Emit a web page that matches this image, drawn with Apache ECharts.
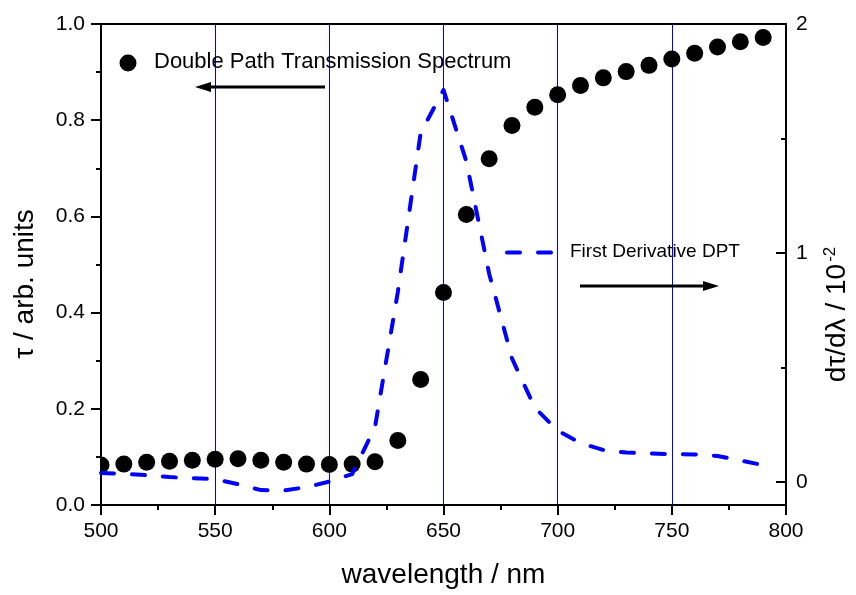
<!DOCTYPE html>
<html>
<head>
<meta charset="utf-8">
<script src="https://cdn.jsdelivr.net/npm/echarts@6/dist/echarts.min.js"></script>
<style>
  html, body { margin: 0; padding: 0; background: #fff; }
  #chart { width: 856px; height: 595px; }
</style>
</head>
<body>
<div id="chart"></div>
<script>
// Wavelength samples (nm)
const wavelengthNm = [500, 510, 520, 530, 540, 550, 560, 570, 580, 590,
                      600, 610, 620, 630, 640, 650, 660, 670, 680, 690,
                      700, 710, 720, 730, 740, 750, 760, 770, 780, 790];

// Double path transmission spectrum, tau (arb. units)
const transmission = [0.083, 0.085, 0.089, 0.091, 0.093, 0.095, 0.096, 0.093, 0.089, 0.085,
                      0.084, 0.085, 0.090, 0.134, 0.261, 0.442, 0.604, 0.720, 0.789, 0.827,
                      0.853, 0.872, 0.888, 0.901, 0.914, 0.927, 0.939, 0.952, 0.963, 0.972];

// First derivative d(tau)/d(lambda), in units of 10^-2
const derivative = [0.040, 0.036, 0.030, 0.022, 0.017, 0.013, -0.009, -0.035, -0.037, -0.022,
                    0.002, 0.035, 0.240, 0.830, 1.525, 1.712, 1.400, 0.910, 0.540, 0.325,
                    0.225, 0.170, 0.140, 0.129, 0.125, 0.122, 0.121, 0.114, 0.095, 0.074];

// Tick values on the right-hand axis
const rightMajorTicks = [0, 1, 2];
const rightMinorTicks = [0.5, 1.5];

const FONT = 'Liberation Sans, Arial, sans-serif';
const BLUE = '#0000ff';
const DOT_RADIUS = 8.5;

const scatterData = wavelengthNm.map((w, i) => [w, transmission[i]]);
const derivData = wavelengthNm.map((w, i) => [w, derivative[i]]);

const chart = echarts.init(document.getElementById('chart'), null, { renderer: 'canvas' });

const axisLine = { show: true, onZero: false, lineStyle: { color: '#000', width: 2 } };

// filled dots, clipped to the plot frame
function renderDot(params, api) {
  const p = api.coord([api.value(0), api.value(1)]);
  return {
    type: 'circle',
    shape: { cx: p[0], cy: p[1], r: DOT_RADIUS },
    style: { fill: '#000' }
  };
}

chart.setOption({
  animation: false,
  backgroundColor: '#fff',
  grid: { left: 101, top: 24, width: 685, height: 481, containLabel: false, outerBoundsMode: 'none' },
  xAxis: [
    {
      type: 'value', min: 500, max: 800, interval: 50,
      position: 'bottom',
      name: 'wavelength / nm', nameLocation: 'middle', nameGap: 56,
      nameTextStyle: { fontFamily: FONT, fontSize: 28, color: '#000' },
      axisLine: axisLine,
      axisTick: { show: true, inside: false, length: 10, lineStyle: { color: '#000', width: 2 } },
      minorTick: { show: true, splitNumber: 2, length: 5, lineStyle: { color: '#000', width: 2 } },
      axisLabel: { fontFamily: FONT, fontSize: 21, color: '#000', margin: 16 },
      splitLine: { show: true, showMinLine: false, showMaxLine: false,
                   lineStyle: { color: [BLUE], width: 1, opacity: 1 } }
    },
    {
      type: 'value', min: 500, max: 800, interval: 50,
      position: 'top',
      axisLine: axisLine,
      axisTick: { show: false },
      axisLabel: { show: false },
      splitLine: { show: false }
    }
  ],
  yAxis: [
    {
      type: 'value', min: 0, max: 1, interval: 0.2,
      position: 'left',
      name: 'τ / arb. units', nameLocation: 'middle', nameGap: 62,
      nameTextStyle: { fontFamily: FONT, fontSize: 28, color: '#000', padding: [0, 39, 0, 0] },
      axisLine: axisLine,
      axisTick: { show: true, inside: false, length: 10, lineStyle: { color: '#000', width: 2 } },
      minorTick: { show: true, splitNumber: 2, length: 5, lineStyle: { color: '#000', width: 2 } },
      axisLabel: { fontFamily: FONT, fontSize: 21, color: '#000', margin: 16,
                   formatter: v => v.toFixed(1) },
      splitLine: { show: false }
    },
    {
      type: 'value', min: -0.1, max: 2,
      position: 'right',
      name: '{n|dτ/dλ / 10}{s|-2}', nameLocation: 'middle', nameGap: 36, nameRotate: 90,
      nameTextStyle: {
        fontFamily: FONT, fontSize: 28, color: '#000', padding: [0, 100, 0, 0],
        rich: {
          n: { fontFamily: FONT, fontSize: 28, color: '#000' },
          s: { fontFamily: FONT, fontSize: 17, color: '#000', verticalAlign: 'top', padding: [0, 0, 14, 2] }
        }
      },
      axisLine: axisLine,
      axisTick: { show: true, inside: true, length: 10, customValues: rightMajorTicks,
                  lineStyle: { color: '#000', width: 2 } },
      axisLabel: { fontFamily: FONT, fontSize: 21, color: '#000', margin: 10,
                   customValues: rightMajorTicks, formatter: v => String(v) },
      splitLine: { show: false }
    },
    {
      // minor ticks of the right-hand axis
      type: 'value', min: -0.1, max: 2,
      position: 'right',
      axisLine: { show: false, onZero: false },
      axisTick: { show: true, inside: true, length: 5, customValues: rightMinorTicks,
                  lineStyle: { color: '#000', width: 2 } },
      axisLabel: { show: false },
      splitLine: { show: false }
    }
  ],
  series: [
    {
      name: 'Double Path Transmission Spectrum',
      type: 'custom',
      xAxisIndex: 0, yAxisIndex: 0,
      data: scatterData,
      renderItem: renderDot,
      encode: { x: 0, y: 1 },
      clip: true,
      z: 3
    },
    {
      name: 'First Derivative DPT',
      type: 'line',
      xAxisIndex: 0, yAxisIndex: 1,
      data: derivData,
      showSymbol: false, smooth: false,
      lineStyle: { color: BLUE, width: 4, type: [13, 18], cap: 'round', join: 'round' },
      clip: true,
      z: 4
    }
  ],
  graphic: [
    // legend entry: transmission
    { type: 'circle', shape: { cx: 128, cy: 63, r: DOT_RADIUS }, style: { fill: '#000' }, z: 10 },
    { type: 'text', x: 154, y: 62,
      style: { text: 'Double Path Transmission Spectrum', font: '22px ' + FONT, fill: '#000',
               textVerticalAlign: 'middle', verticalAlign: 'middle' }, z: 10 },
    // arrow pointing to the left-hand axis
    { type: 'line', shape: { x1: 325, y1: 87, x2: 208, y2: 87 }, style: { stroke: '#000', lineWidth: 3 }, z: 10 },
    { type: 'polygon', shape: { points: [[195, 87], [211, 82], [211, 92]] }, style: { fill: '#000' }, z: 10 },
    // legend entry: derivative
    { type: 'line', shape: { x1: 507, y1: 252.5, x2: 553, y2: 252.5 },
      style: { stroke: BLUE, lineWidth: 4, lineDash: [13, 18], lineCap: 'round' }, z: 10 },
    { type: 'text', x: 570, y: 252,
      style: { text: 'First Derivative DPT', font: '19px ' + FONT, fill: '#000',
               textVerticalAlign: 'middle', verticalAlign: 'middle' }, z: 10 },
    // arrow pointing to the right-hand axis
    { type: 'line', shape: { x1: 580, y1: 286, x2: 705, y2: 286 }, style: { stroke: '#000', lineWidth: 3 }, z: 10 },
    { type: 'polygon', shape: { points: [[719, 286], [703, 281], [703, 291]] }, style: { fill: '#000' }, z: 10 }
  ]
});
</script>
</body>
</html>
